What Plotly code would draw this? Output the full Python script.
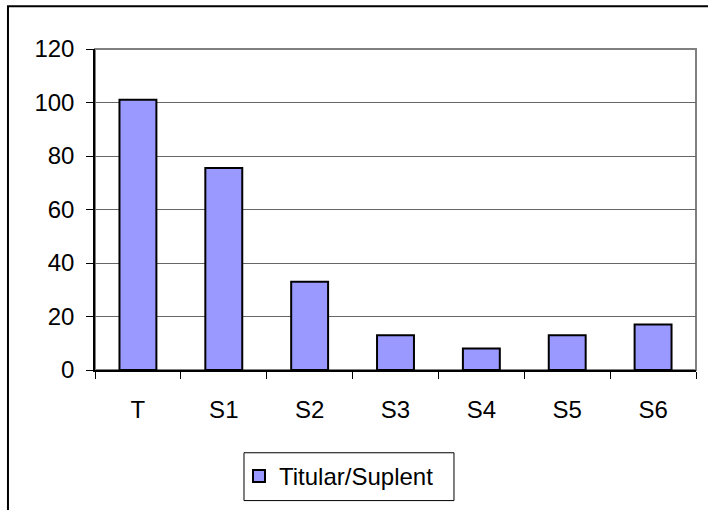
import plotly.graph_objects as go

categories = ["T", "S1", "S2", "S3", "S4", "S5", "S6"]
values = [101, 75.5, 33, 13, 8, 13, 17]
series_name = "Titular/Suplent"
y_ticks = [0, 20, 40, 60, 80, 100, 120]

FONT = "Liberation Sans, Arial, sans-serif"

fig = go.Figure()
fig.add_trace(go.Bar(
    x=categories, y=values, name=series_name,
    marker=dict(color="#9999FF", line=dict(color="black", width=2)),
    showlegend=True,
))

# plot-area frame (grey, Excel style)
fig.add_shape(type="rect", xref="paper", yref="paper", x0=0, x1=1, y0=0, y1=1,
              line=dict(color="#808080", width=2), layer="below")
# outer chart border
fig.add_shape(type="rect", xref="paper", yref="paper", x0=-0.1448, x1=1.2, y0=-0.5, y1=1.1335,
              line=dict(color="black", width=2), layer="below")
# legend frame
fig.add_shape(type="rect", xref="paper", yref="paper", x0=0.2479, x1=0.5973, y0=-0.4068, y1=-0.2578,
              line=dict(color="black", width=1), fillcolor="white", layer="below")

fig.update_layout(
    width=708, height=510,
    margin=dict(l=95, r=12, t=49, b=139),
    paper_bgcolor="white", plot_bgcolor="white",
    font=dict(family=FONT, size=24, color="black"),
    bargap=0.57,
    showlegend=True,
    legend=dict(
        x=0.2396, xanchor="left", y=-0.2575, yanchor="top",
        orientation="h",
        borderwidth=0, bgcolor="rgba(0,0,0,0)",
        font=dict(family=FONT, size=24, color="black"),
    ),
    xaxis=dict(
        type="category",
        showline=True, linecolor="black", linewidth=1.5,
        ticks="outside", tickson="boundaries", ticklen=7, tickcolor="black", tickwidth=1,
        showgrid=False,
        ticklabelstandoff=17,
    ),
    yaxis=dict(
        range=[0, 120], tickvals=y_ticks,
        showline=True, linecolor="black", linewidth=1.5,
        ticks="outside", ticklen=7, tickcolor="black", tickwidth=1,
        showgrid=True, gridcolor="#666666", gridwidth=1.2,
        zeroline=False,
        ticklabelstandoff=7,
    ),
)

fig.write_html("out.html", config={"displayModeBar": False},
               post_script="document.body.style.margin='0';")
